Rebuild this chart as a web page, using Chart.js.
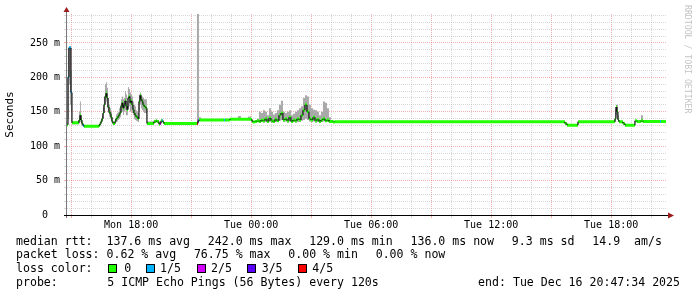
<!DOCTYPE html>
<html><head><meta charset="utf-8">
<script src="https://cdn.jsdelivr.net/npm/chart.js@4.4.1/dist/chart.umd.min.js"></script>
<style>html,body{margin:0;padding:0;background:#fff;}canvas{display:block;}</style>
</head><body>
<canvas id="c" width="697" height="297"></canvas>
<script>
// ---- data (hours since Mon 00:00, values in ms) ----
const times = [
  14.79,14.84,14.89,14.94,14.99,15.04,15.39,15.44,15.49,15.54,15.59,15.64,
  16.39,16.44,16.49,16.54,16.59,16.64,16.69,16.74,16.79,16.84,16.89,16.94,16.99,17.04,17.09,
  17.19,17.24,17.29,17.34,17.39,17.44,17.49,17.54,17.59,17.64,17.69,17.74,17.79,17.84,17.89,17.94,17.99,18.04,18.09,18.14,18.19,18.24,18.29,18.34,18.39,18.44,18.49,18.54,18.59,18.64,18.69,18.74,18.79,
  19.14,19.24,19.29,19.39,19.44,19.49,19.54,19.59,19.64,
  21.29,21.34,21.39,21.49,22.64,22.69,22.94,23.34,23.49,23.84,23.99,24.04,
  24.09,24.19,24.29,24.39,24.49,24.59,24.69,24.79,24.89,24.99,25.09,25.19,25.29,25.39,25.49,25.59,25.69,25.79,25.89,25.99,26.09,26.19,26.29,26.39,26.49,26.59,26.69,26.79,26.89,26.99,27.09,27.19,27.29,27.39,27.49,27.59,27.69,27.79,27.89,27.99,28.09,
  28.19,39.69,39.79,40.34,42.19,42.24,42.29,42.34,42.39,42.59,42.69,43.19,43.29,43.49,43.59,44.44,44.49,44.74
];
const median = [
  131,200,243,243,178,134,138,145,138,133,130,129,
  130,133,136,140,148,160,172,177,170,157,150,147,142,136,133,
  136,140,141,143,146,149,158,163,155,160,166,158,153,170,172,163,166,160,153,148,145,143,142,140,165,174,168,165,160,158,157,155,133,
  136,137,136,132,133,137,137,135,133,
  133,137,138,138,138,138,139,139,139,139,139,136,
  135,136,137,136,138,137,140,136,141,137,136,139,137,145,148,138,140,137,142,136,138,137,140,138,145,152,160,150,140,138,142,137,139,136,138,140,137,138,136,136,135,
  135.5,133,130.5,135.5,140,157,150,138,135.5,133,130.5,137,136,137,136,136,136,136
];
const smokeLow = [
  129,140,190,160,150,132,133,135,131,130,129,128,
  129,131,133,136,140,148,160,165,155,148,143,140,136,133,131,
  133,135,136,138,140,142,148,150,145,150,152,145,145,155,158,150,152,148,145,140,138,137,136,135,150,160,155,152,150,148,148,147,132,
  134,135,134,131,132,134,135,133,132,
  132,136,137,137,137,137,138,138,138,138,138,135,
  134,134,135,134,135,134,135,134,136,134,134,135,135,137,138,135,136,134,136,134,135,134,135,135,137,138,140,138,136,135,136,134,135,134,135,136,135,135,134,135,134,
  135,131,130,135,136,145,140,135,135,131,130,135,135,135,135.5,135.5,135.5,135.5
];
const smokeHigh = [
  134,243,243,243,210,136,150,165,145,136,131,130,
  132,136,140,146,156,172,190,193,185,170,160,155,150,142,136,
  140,146,148,150,155,160,168,172,168,170,180,175,165,186,183,178,175,172,165,160,158,152,150,148,175,178,175,172,170,168,168,168,136,
  138,140,138,134,135,140,139,137,134,
  300,300,142,139,139,139,140,144,140,143,140,138,
  137,138,140,150,148,152,150,145,155,150,146,148,152,160,166,150,148,150,152,145,147,150,152,155,158,170,174,172,160,155,153,152,150,145,150,165,163,155,142,138,137,
  136.5,134,131.5,136.5,153,160,160,145,136.5,134,131.5,138,137,145,136.5,136.5,136.5,136.5
];
const lossFifths = [
  0,1,1,1,1,0,0,0,0,0,1,0,
  0,0,0,0,0,0,0,0,0,0,0,0,0,0,0,
  0,0,0,0,0,0,0,0,0,0,0,0,0,0,0,0,0,0,0,0,0,0,0,0,0,0,0,0,0,0,0,0,0,
  0,0,0,0,2,0,1,0,0,
  4,3,0,0,1,0,0,0,0,0,0,0,
  0,0,0,0,0,0,0,0,0,0,0,0,0,0,0,0,0,0,0,0,0,0,0,0,0,0,0,0,0,0,0,0,0,0,0,0,0,0,0,0,0,
  0,0,0,0,0,0,0,0,0,0,0,0,0,0,0,1,0,0
];
const lossLabels = ['0','1/5','2/5','3/5','4/5'];
const lossColors = ['#22ff00','#00b4ff','#d400ff','#5a00ff','#ff0000'];

const xStart = 14.7928, xEnd = 44.7928;
const xTickHours = [15,16,17,18,19,20,21,22,23,24,25,26,27,28,29,30,31,32,33,34,35,36,37,38,39,40,41,42,43,44];
const xLabelHours = [18,24,30,36,42];
const xLabelText = ['Mon 18:00','Tue 00:00','Tue 06:00','Tue 12:00','Tue 18:00'];
const yTickValues = [0,10,20,30,40,50,60,70,80,90,100,110,120,130,140,150,160,170,180,190,200,210,220,230,240,250,260,270,280,290];
const yLabelValues = [0,50,100,150,200,250];
const yLabelText = ['0  ','50 m','100 m','150 m','200 m','250 m'];

const legendLine1 = ['median rtt:  137.6 ms avg','242.0 ms max','129.0 ms min','136.0 ms now','9.3 ms sd','14.9  am/s'];
const legendLine2 = ['packet loss: 0.62 % avg','76.75 % max','0.00 % min','0.00 % now'];
const probeText = '5 ICMP Echo Pings (56 Bytes) every 120s';
const endText = 'end: Tue Dec 16 20:47:34 2025';

// ---- helpers ----
const MONO = '"DejaVu Sans Mono", monospace';
const MAJOR = 'rgba(235,110,110,0.55)';
const MINOR = 'rgba(175,175,175,0.5)';
const pts = vals => times.map((t, i) => ({x: t, y: vals[i]}));
function segmentsFor(level) {
  const out = [];
  for (let i = 0; i < times.length - 1; i++) {
    if (lossFifths[i] !== level) continue;
    out.push({x: times[i], y: median[i]}, {x: times[i + 1], y: median[i]}, {x: times[i + 1], y: null});
  }
  return out;
}
function verticalSteps() {
  const out = [];
  for (let i = 0; i < times.length - 1; i++) {
    if (median[i] === median[i + 1]) continue;
    out.push({x: times[i + 1], y: median[i]}, {x: times[i + 1], y: median[i + 1]}, {x: times[i + 1], y: null});
  }
  return out;
}

const axisPlugin = {
  id: 'axes',
  afterDatasetsDraw(chart) {
    const c = chart.ctx, a = chart.chartArea;
    c.save();
    c.lineWidth = 1;
    c.strokeStyle = '#7a7a7a';
    c.beginPath(); c.moveTo(a.left - 0.5, a.bottom + 3); c.lineTo(a.left - 0.5, a.top - 3); c.stroke();
    c.strokeStyle = '#000';
    c.beginPath(); c.moveTo(a.left - 3, a.bottom + 0.5); c.lineTo(a.right + 2, a.bottom + 0.5); c.stroke();
    c.fillStyle = '#9b1c1c';
    c.beginPath(); c.moveTo(a.right + 7, a.bottom + 0.5); c.lineTo(a.right + 1, a.bottom - 2.5); c.lineTo(a.right + 1, a.bottom + 3.5); c.closePath(); c.fill();
    c.beginPath(); c.moveTo(a.left - 0.5, a.top - 7); c.lineTo(a.left - 3.5, a.top - 2); c.lineTo(a.left + 2.5, a.top - 2); c.closePath(); c.fill();
    c.restore();
  }
};

const legendPlugin = {
  id: 'legendText',
  afterDraw(chart) {
    const c = chart.ctx;
    c.save();
    c.font = '11.57px ' + MONO;
    c.fillStyle = '#000';
    c.textBaseline = 'middle';
    const gap = 17.8;
    let x = 16;
    for (const s of legendLine1) { c.fillText(s, x, 241.7); x += c.measureText(s).width + gap; }
    x = 16;
    for (const s of legendLine2) { c.fillText(s, x, 255.3); x += c.measureText(s).width + gap; }
    c.fillText('loss color:', 16, 269.2);
    const swX = [108, 146, 197, 247, 298];
    const txX = [124.3, 160, 211, 261.7, 312.3];
    for (let i = 0; i < lossLabels.length; i++) {
      c.fillStyle = lossColors[i];
      c.fillRect(swX[i], 264, 9, 9);
      c.strokeStyle = '#000'; c.lineWidth = 1;
      c.strokeRect(swX[i] + 0.5, 264.5, 8, 8);
      c.fillStyle = '#000';
      c.fillText(lossLabels[i], txX[i], 269.2);
    }
    c.fillText('probe:', 16, 282.8);
    c.fillText(probeText, 107.3, 282.8);
    c.textAlign = 'right';
    c.fillText(endText, 680, 282.8);
    // watermark
    c.translate(691, 5);
    c.rotate(Math.PI / 2);
    c.textAlign = 'left';
    c.textBaseline = 'top';
    c.font = '8.2px ' + MONO;
    c.fillStyle = '#c4c4c4';
    c.fillText('RRDTOOL / TOBI OETIKER', 0, 0);
    c.restore();
  }
};

const datasets = [
  {label: 'smoke high', data: pts(smokeHigh), stepped: true, borderColor: 'rgba(0,0,0,0)', borderWidth: 1, pointRadius: 0, fill: '+1', backgroundColor: '#a9a9a9', order: 5},
  {label: 'smoke low', data: pts(smokeLow), stepped: true, borderColor: 'rgba(0,0,0,0)', borderWidth: 1, pointRadius: 0, fill: false, order: 5},
  {label: 'median steps', data: verticalSteps(), borderColor: '#111', borderWidth: 1.2, pointRadius: 0, spanGaps: false, fill: false, order: 0}
];
for (let lv = 0; lv < lossLabels.length; lv++) {
  datasets.push({label: 'loss ' + lossLabels[lv], data: segmentsFor(lv), borderColor: lossColors[lv], borderWidth: 3, pointRadius: 0, spanGaps: false, fill: false, order: 1});
}

new Chart(document.getElementById('c').getContext('2d'), {
  type: 'line',
  data: {datasets},
  options: {
    responsive: false, animation: false, devicePixelRatio: 1,
    layout: {padding: {left: 0, right: 30, top: 14, bottom: 0}},
    plugins: {legend: {display: false}, tooltip: {enabled: false}},
    elements: {line: {tension: 0}, point: {radius: 0}},
    scales: {
      x: {
        type: 'linear', min: xStart, max: xEnd,
        afterFit: s => { s.height = 82; },
        afterBuildTicks: s => { s.ticks = xTickHours.map(v => ({value: v})); },
        ticks: {autoSkip: false, maxRotation: 0, minRotation: 0, padding: 1, color: '#000', font: {family: MONO, size: 10},
          callback: v => { const i = xLabelHours.indexOf(v); return i >= 0 ? xLabelText[i] : ''; }},
        grid: {color: c => (c.tick && c.tick.value % 3 === 0) ? MAJOR : MINOR, tickLength: 3, lineWidth: 1},
        border: {display: false, dash: [1, 1]}
      },
      y: {
        min: 0, max: 292,
        afterFit: s => { s.width = 67; },
        afterBuildTicks: s => { s.ticks = yTickValues.map(v => ({value: v})); },
        ticks: {autoSkip: false, padding: 4, color: '#000', font: {family: MONO, size: 10},
          callback: v => { const i = yLabelValues.indexOf(v); return i >= 0 ? yLabelText[i] : ''; }},
        title: {display: true, text: 'Seconds', color: '#000', font: {family: MONO, size: 11}, padding: {top: 4, bottom: 0}},
        grid: {color: c => (c.tick && c.tick.value % 50 === 0) ? MAJOR : MINOR, tickLength: 3, lineWidth: 1},
        border: {display: false, dash: [1, 1]}
      }
    }
  },
  plugins: [axisPlugin, legendPlugin]
});
</script>
</body></html>
